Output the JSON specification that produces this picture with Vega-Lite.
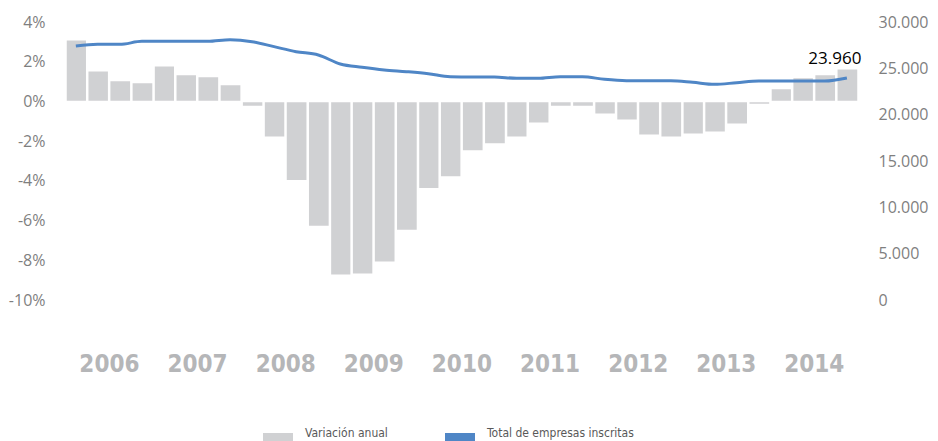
{
  "$schema": "https://vega.github.io/schema/vega-lite/v6.json",
  "width": 793,
  "height": 278,
  "autosize": {"type": "none"},
  "padding": {"left": 65, "top": 22, "right": 80, "bottom": 141},
  "background": "white",
  "config": {
    "view": {"stroke": null},
    "locale": {"number": {"decimal": ",", "thousands": ".", "grouping": [3], "currency": ["", " €"], "minus": "-"}}
  },
  "data": {
    "values": [
      {"date": "2006-01-01", "variacion": 3.1, "total": 27410},
      {"date": "2006-04-01", "variacion": 1.55, "total": 27590},
      {"date": "2006-07-01", "variacion": 1.05, "total": 27590},
      {"date": "2006-10-01", "variacion": 0.95, "total": 27910},
      {"date": "2007-01-01", "variacion": 1.8, "total": 27910},
      {"date": "2007-04-01", "variacion": 1.35, "total": 27910},
      {"date": "2007-07-01", "variacion": 1.25, "total": 27910},
      {"date": "2007-10-01", "variacion": 0.85, "total": 28090},
      {"date": "2008-01-01", "variacion": -0.25, "total": 27880},
      {"date": "2008-04-01", "variacion": -1.8, "total": 27340},
      {"date": "2008-07-01", "variacion": -4.0, "total": 26800},
      {"date": "2008-10-01", "variacion": -6.3, "total": 26440},
      {"date": "2009-01-01", "variacion": -8.75, "total": 25470},
      {"date": "2009-04-01", "variacion": -8.7, "total": 25110},
      {"date": "2009-07-01", "variacion": -8.1, "total": 24820},
      {"date": "2009-10-01", "variacion": -6.5, "total": 24640},
      {"date": "2010-01-01", "variacion": -4.4, "total": 24420},
      {"date": "2010-04-01", "variacion": -3.8, "total": 24100},
      {"date": "2010-07-01", "variacion": -2.5, "total": 24070},
      {"date": "2010-10-01", "variacion": -2.15, "total": 24070},
      {"date": "2011-01-01", "variacion": -1.8, "total": 23920},
      {"date": "2011-04-01", "variacion": -1.1, "total": 23920},
      {"date": "2011-07-01", "variacion": -0.25, "total": 24100},
      {"date": "2011-10-01", "variacion": -0.25, "total": 24100},
      {"date": "2012-01-01", "variacion": -0.65, "total": 23810},
      {"date": "2012-04-01", "variacion": -0.95, "total": 23670},
      {"date": "2012-07-01", "variacion": -1.7, "total": 23670},
      {"date": "2012-10-01", "variacion": -1.8, "total": 23670},
      {"date": "2013-01-01", "variacion": -1.65, "total": 23490},
      {"date": "2013-04-01", "variacion": -1.55, "total": 23270},
      {"date": "2013-07-01", "variacion": -1.15, "total": 23450},
      {"date": "2013-10-01", "variacion": -0.15, "total": 23630},
      {"date": "2014-01-01", "variacion": 0.65, "total": 23630},
      {"date": "2014-04-01", "variacion": 1.2, "total": 23630},
      {"date": "2014-07-01", "variacion": 1.35, "total": 23630},
      {"date": "2014-10-01", "variacion": 1.65, "total": 23960}
    ]
  },
  "encoding": {
    "x": {
      "field": "date",
      "type": "temporal",
      "timeUnit": "utcyearquarter",
      "scale": {
        "type": "utc",
        "domain": [
          {"year": 2006, "month": 1, "date": 1, "utc": true},
          {"year": 2015, "month": 1, "date": 1, "utc": true}
        ]
      },
      "axis": {
        "title": null,
        "domain": false,
        "ticks": false,
        "grid": false,
        "values": [
          {"year": 2006, "month": 7, "date": 2, "utc": true},
          {"year": 2007, "month": 7, "date": 2, "utc": true},
          {"year": 2008, "month": 7, "date": 2, "utc": true},
          {"year": 2009, "month": 7, "date": 2, "utc": true},
          {"year": 2010, "month": 7, "date": 2, "utc": true},
          {"year": 2011, "month": 7, "date": 2, "utc": true},
          {"year": 2012, "month": 7, "date": 2, "utc": true},
          {"year": 2013, "month": 7, "date": 2, "utc": true},
          {"year": 2014, "month": 7, "date": 2, "utc": true}
        ],
        "labelExpr": "utcFormat(datum.value, '%Y')",
        "labelFont": "DejaVu Sans Condensed",
        "labelFontWeight": "bold",
        "labelFontSize": 24,
        "labelColor": "#b5b6b8",
        "labelPadding": 52,
        "labelFlush": false,
        "labelOverlap": false
      }
    }
  },
  "layer": [
    {
      "mark": {"type": "bar", "stroke": "white", "strokeWidth": 1.5},
      "encoding": {
        "y": {
          "field": "variacion",
          "type": "quantitative",
          "scale": {"domain": [-10, 4], "nice": false, "zero": false},
          "axis": {
            "title": null,
            "orient": "left",
            "values": [-10, -8, -6, -4, -2, 0, 2, 4],
            "labelExpr": "datum.value + '%'",
            "domain": false,
            "ticks": false,
            "grid": false,
            "labelFont": "Open Sans",
            "labelFontSize": 16,
            "labelColor": "#7f7f7f",
            "labelPadding": 20
          }
        },
        "color": {
          "datum": "Variación anual",
          "type": "nominal",
          "scale": {
            "domain": ["Variación anual", "Total de empresas inscritas"],
            "range": ["#d0d1d3", "#4f86c6"]
          },
          "legend": {
            "title": null,
            "orient": "none",
            "direction": "horizontal",
            "legendX": 198,
            "legendY": 396,
            "symbolType": "M-1,0H1V1.2H-1Z",
            "symbolSize": 900,
            "symbolStrokeWidth": 0,
            "labelFont": "DejaVu Sans Condensed",
            "labelFontSize": 12,
            "labelColor": "#595959",
            "labelOffset": 12,
            "columnPadding": 57,
            "encode": {
              "symbols": {"update": {"fill": {"scale": "color", "field": "value"}, "stroke": {"value": "transparent"}, "opacity": {"value": 1}}}
            }
          }
        }
      }
    },
    {
      "layer": [
        {
          "mark": {"type": "line", "strokeWidth": 3, "interpolate": "monotone"},
          "encoding": {
            "x": {"field": "date", "type": "temporal", "timeUnit": "utcyearquarter", "bandPosition": 0.5},
            "y": {
              "field": "total",
              "type": "quantitative",
              "scale": {"domain": [0, 30000], "nice": false},
              "axis": {
                "title": null,
                "orient": "right",
                "values": [0, 5000, 10000, 15000, 20000, 25000, 30000],
                "format": ",.0f",
                "domain": false,
                "ticks": false,
                "grid": false,
                "labelFont": "Open Sans",
                "labelFontSize": 16,
                "labelColor": "#7f7f7f",
                "labelPadding": 20
              }
            },
            "color": {"datum": "Total de empresas inscritas", "type": "nominal"}
          }
        },
        {
          "transform": [{"filter": "datum.total == 23960"}],
          "mark": {"type": "text", "baseline": "bottom", "dx": -12, "dy": -10, "font": "Open Sans", "fontSize": 17, "color": "#000000"},
          "encoding": {
            "x": {"field": "date", "type": "temporal", "timeUnit": "utcyearquarter", "bandPosition": 0.5},
            "y": {"field": "total", "type": "quantitative"},
            "text": {"field": "total", "type": "quantitative", "format": ",.0f"}
          }
        }
      ]
    }
  ],
  "resolve": {"scale": {"y": "independent"}}
}
